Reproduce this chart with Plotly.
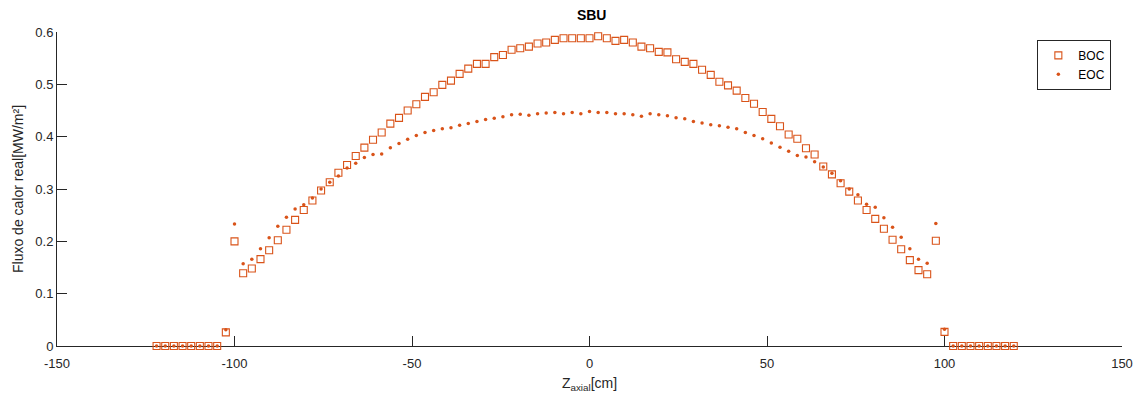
import plotly.graph_objects as go

# axial positions [cm]
z_axial = [-121.95, -119.51, -117.07, -114.63, -112.20, -109.76, -107.32, -104.88,
           -102.44, -100.00, -97.56, -95.12, -92.68, -90.24, -87.80, -85.37,
           -82.93, -80.49, -78.05, -75.61, -73.17, -70.73, -68.29, -65.85,
           -63.41, -60.98, -58.54, -56.10, -53.66, -51.22, -48.78, -46.34,
           -43.90, -41.46, -39.02, -36.59, -34.15, -31.71, -29.27, -26.83,
           -24.39, -21.95, -19.51, -17.07, -14.63, -12.20, -9.76, -7.32,
           -4.88, -2.44, 0.00, 2.44, 4.88, 7.32, 9.76, 12.20,
           14.63, 17.07, 19.51, 21.95, 24.39, 26.83, 29.27, 31.71,
           34.15, 36.59, 39.02, 41.46, 43.90, 46.34, 48.78, 51.22,
           53.66, 56.10, 58.54, 60.98, 63.41, 65.85, 68.29, 70.73,
           73.17, 75.61, 78.05, 80.49, 82.93, 85.37, 87.80, 90.24,
           92.68, 95.12, 97.56, 100.00, 102.44, 104.88, 107.32, 109.76,
           112.20, 114.63, 117.07, 119.51]

boc = [0, 0, 0, 0, 0, 0, 0, 0,
       0.026, 0.200, 0.139, 0.148, 0.166, 0.183, 0.202, 0.222,
       0.241, 0.260, 0.278, 0.297, 0.313, 0.331, 0.346, 0.363,
       0.379, 0.394, 0.408, 0.425, 0.436, 0.450, 0.462, 0.476,
       0.485, 0.499, 0.507, 0.520, 0.530, 0.539, 0.539, 0.552,
       0.556, 0.566, 0.569, 0.572, 0.578, 0.580, 0.585, 0.588,
       0.588, 0.588, 0.588, 0.592, 0.588, 0.583, 0.585, 0.580,
       0.572, 0.569, 0.562, 0.561, 0.548, 0.543, 0.539, 0.528,
       0.518, 0.505, 0.498, 0.488, 0.474, 0.463, 0.447, 0.434,
       0.420, 0.404, 0.396, 0.378, 0.366, 0.343, 0.328, 0.311,
       0.295, 0.278, 0.260, 0.243, 0.224, 0.203, 0.185, 0.164,
       0.145, 0.137, 0.201, 0.027, 0, 0, 0, 0,
       0, 0, 0, 0]

eoc = [0, 0, 0, 0, 0, 0, 0, 0,
       0.031, 0.233, 0.157, 0.166, 0.186, 0.207, 0.229, 0.246,
       0.262, 0.270, 0.283, 0.300, 0.313, 0.325, 0.340, 0.349,
       0.360, 0.366, 0.367, 0.379, 0.387, 0.395, 0.402, 0.408,
       0.412, 0.415, 0.417, 0.422, 0.425, 0.429, 0.433, 0.435,
       0.438, 0.442, 0.443, 0.441, 0.444, 0.445, 0.446, 0.444,
       0.446, 0.444, 0.448, 0.446, 0.446, 0.444, 0.444, 0.442,
       0.439, 0.444, 0.442, 0.440, 0.436, 0.434, 0.429, 0.426,
       0.423, 0.421, 0.418, 0.415, 0.408, 0.402, 0.396, 0.388,
       0.380, 0.372, 0.364, 0.361, 0.352, 0.342, 0.330, 0.316,
       0.300, 0.289, 0.271, 0.265, 0.245, 0.227, 0.208, 0.186,
       0.166, 0.158, 0.234, 0.032, 0, 0, 0, 0,
       0, 0, 0, 0]

x_ticks = [-150, -100, -50, 0, 50, 100, 150]
y_ticks = [0, 0.1, 0.2, 0.3, 0.4, 0.5, 0.6]
y_ticktext = ["0", "0.1", "0.2", "0.3", "0.4", "0.5", "0.6"]

color = "#D95319"
axis_color = "#262626"
font_family = "Liberation Sans, Arial, sans-serif"

fig = go.Figure()
fig.add_trace(go.Scatter(
    x=z_axial, y=boc, mode="markers", name="BOC", cliponaxis=False,
    marker=dict(symbol="square-open", size=7, color=color, line=dict(width=1.1, color=color)),
))
fig.add_trace(go.Scatter(
    x=z_axial, y=eoc, mode="markers", name="EOC", cliponaxis=False,
    marker=dict(symbol="circle", size=3.5, color=color, line=dict(width=0)),
))

fig.update_layout(
    width=1145, height=400,
    margin=dict(l=57, r=19, t=32, b=53),
    paper_bgcolor="white", plot_bgcolor="white",
    font=dict(family=font_family, size=13, color=axis_color),
    title=dict(text="<b>SBU</b>", x=591.7 / 1145, xanchor="center",
               y=1 - 15 / 400, yanchor="middle",
               font=dict(size=14, color="black", family=font_family)),
    showlegend=True,
    legend=dict(x=0.99, xanchor="right", y=0.975, yanchor="top",
                bordercolor=axis_color, borderwidth=1, bgcolor="white",
                font=dict(size=12, color="black", family=font_family),
                itemwidth=30, tracegroupgap=0),
    xaxis=dict(
        range=[-150, 150], tickvals=x_ticks, ticktext=[str(v) for v in x_ticks],
        ticks="inside", ticklen=10, tickwidth=1, tickcolor=axis_color,
        showline=True, linecolor=axis_color, linewidth=1, mirror=False,
        showgrid=False, zeroline=False, layer="below traces",
        ticklabelstandoff=5,
        tickfont=dict(size=13, color=axis_color),
        title=dict(text="Z<sub>axial</sub>[cm]", standoff=8,
                   font=dict(size=14, color=axis_color)),
    ),
    yaxis=dict(
        range=[0, 0.6], tickvals=y_ticks, ticktext=y_ticktext,
        ticks="inside", ticklen=10, tickwidth=1, tickcolor=axis_color,
        showline=True, linecolor=axis_color, linewidth=1, mirror=False,
        showgrid=False, zeroline=False, layer="below traces",
        tickfont=dict(size=13, color=axis_color),
        title=dict(text="Fluxo de calor real[MW/m²]", standoff=8,
                   font=dict(size=14, color=axis_color)),
    ),
)

fig.write_html("out.html")
